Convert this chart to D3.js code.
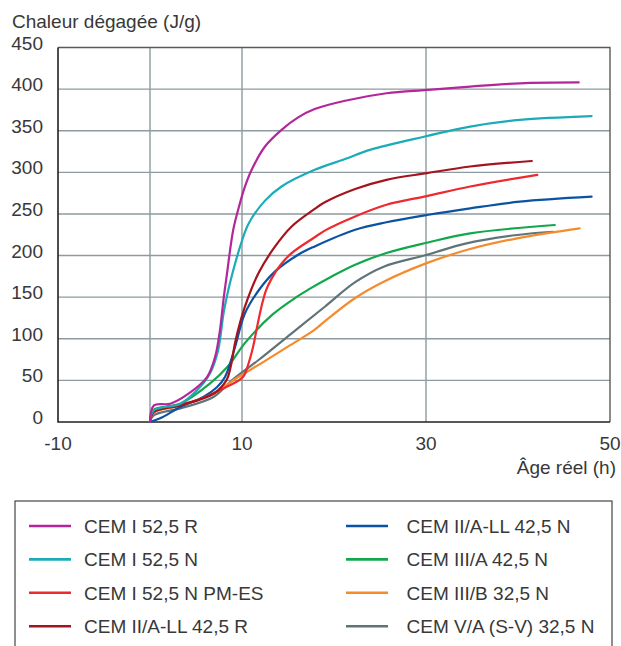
<!DOCTYPE html>
<html><head><meta charset="utf-8">
<script src="https://cdn.jsdelivr.net/npm/d3@7"></script>
<style>
body{margin:0;background:#fff;}
svg{display:block;font-family:"Liberation Sans",Arial,sans-serif;}
</style></head>
<body><svg id="c" width="621" height="646"></svg>
<script>
const seriesNames = ["CEM I 52,5 R","CEM I 52,5 N","CEM I 52,5 N PM-ES","CEM II/A-LL 42,5 R","CEM II/A-LL 42,5 N","CEM III/A 42,5 N","CEM III/B 32,5 N","CEM V/A (S-V) 32,5 N"];
const seriesColors = ["#b3279b","#1babb9","#ee2a30","#a3141e","#0b52a3","#13a74b","#f68b2c","#5f7479"];
const cemI525R_x = [0,0.43,2.2,4.3,6.2,7.07,7.6,8.0,8.33,9.05,9.78,10.2,11.05,12.5,14.3,16.1,17.9,21.2,25.7,30.1,34.8,40.2,46.6];
const cemI525R_y = [0,20,22,35,54,78,110,148,175,231,263,279,303,331,351,366,376,386,395,399,403,407,408];
const cemI525N_x = [0,0.36,3.3,5.1,6.5,7.4,8.0,8.5,8.9,9.8,10.7,12.5,14.3,17.9,21.2,23.9,30.1,34.8,40.2,48];
const cemI525N_y = [0,13.6,22,38,58,86,131,158,176,211,238,266,283,303,316,327,343.6,355,363,367.6];
const cemPMES_x = [0,0.4,5.1,8.3,10.1,10.7,11.2,11.6,12.1,12.6,13.2,14.2,15.4,17.9,19.0,22.3,25.7,30.1,34.8,42.1];
const cemPMES_y = [0,12,26,42,54,70,90,112,138,158,172,189,203,222,230,247,261,271.5,283,297];
const cemIIR_x = [0,0.4,3.3,6.9,8.3,8.8,9.3,10.3,11.8,13.6,15.4,17.9,19.0,22.3,25.7,30.1,34.8,41.5];
const cemIIR_y = [0,12,20,34,50,68,98,138,179,211,235,256,264,280,291,299,307,313.6];
const cemIIN_x = [0,1.1,3.3,5.8,7.3,8.15,9.24,10.3,11.8,13.6,16.1,17.9,22.3,25.7,30.1,34.8,40.2,48];
const cemIIN_y = [0,4.4,18,30,42,54,90,130,158,181,201,211,231,240,248.7,256.7,264.7,270.7];
const cemIIIA_x = [0,0.36,3.3,6.5,8.4,10.4,13.3,15.9,17.2,19.6,22.3,25.7,30.1,34.8,44.0];
const cemIIIA_y = [0,14.4,22,46,66,96,129,150,159,174,189,203,215.4,226.7,236.7];
const cemIIIB_x = [0,0.4,3.3,6.9,9.3,12.3,15.2,17.8,19.0,22.3,25.4,30.0,34.4,39.9,46.7];
const cemIIIB_y = [0,11,20,34,52,72,92,110,121,149,168.6,190.6,206.6,220.7,232.7];
const cemVA_x = [0,0.4,3.3,6.9,8.9,11.8,15.4,19.0,22.3,25.4,30.0,34.4,39.9,43.8];
const cemVA_y = [0,8,16.4,30,50,74.5,106.6,138.5,168,186.6,200.6,214.7,224.7,228.6];
const seriesX = [cemI525R_x,cemI525N_x,cemPMES_x,cemIIR_x,cemIIN_x,cemIIIA_x,cemIIIB_x,cemVA_x];
const seriesY = [cemI525R_y,cemI525N_y,cemPMES_y,cemIIR_y,cemIIN_y,cemIIIA_y,cemIIIB_y,cemVA_y];
const xTickLabels = [-10,10,30,50];
const xGridValues = [0,10,30];
const yTickLabels = [0,50,100,150,200,250,300,350,400,450];
const yTitle = "Chaleur dégagée (J/g)";
const xTitle = "Âge réel (h)";

const svg = d3.select("#c");
const x = d3.scaleLinear().domain([-10,50]).range([58,610]);
const y = d3.scaleLinear().domain([0,450]).range([422,47.5]);
const txt = "#383838";

// grid
svg.append("g").selectAll("line").data(yTickLabels.filter(v=>v>0&&v<450)).join("line")
  .attr("x1",x(-10)).attr("x2",x(50)).attr("y1",d=>y(d)).attr("y2",d=>y(d))
  .attr("stroke","#8c9b9f").attr("stroke-width",1.4);
svg.append("g").selectAll("line").data(xGridValues).join("line")
  .attr("y1",y(0)).attr("y2",y(450)).attr("x1",d=>x(d)).attr("x2",d=>x(d))
  .attr("stroke","#8c9b9f").attr("stroke-width",1.4);
// frame
svg.append("path").attr("d",`M${x(-10)},${y(450)}H${x(50)}V${y(0)}`).attr("fill","none").attr("stroke","#5a5a5a").attr("stroke-width",1.4);
svg.append("path").attr("d",`M${x(-10)},${y(450)}V${y(0)}H${x(50)}`).attr("fill","none").attr("stroke","#222").attr("stroke-width",1.6);

// y labels
svg.append("g").selectAll("text").data(yTickLabels).join("text")
  .attr("x",43).attr("y",d=>y(d)+2).attr("text-anchor","end")
  .attr("font-size",19).attr("fill",txt).text(d=>d);
// x labels
svg.append("g").selectAll("text").data(xTickLabels).join("text")
  .attr("x",d=>x(d)).attr("y",450).attr("text-anchor","middle")
  .attr("font-size",19).attr("fill",txt).text(d=>d);
svg.append("text").attr("x",12).attr("y",28).attr("font-size",19).attr("fill",txt).text(yTitle);
svg.append("text").attr("x",616).attr("y",474).attr("text-anchor","end").attr("font-size",19).attr("fill",txt).text(xTitle);

// lines
const line = d3.line().x(d=>x(d[0])).y(d=>y(d[1])).curve(d3.curveCatmullRom.alpha(0.5));
const order = [7,6,5,4,2,3,1,0];
order.forEach(i=>{
  const pts = seriesX[i].map((v,j)=>[v,seriesY[i][j]]);
  svg.append("path").attr("d",line(pts)).attr("fill","none")
    .attr("stroke",seriesColors[i]).attr("stroke-width",2.2).attr("stroke-linejoin","round").attr("stroke-linecap","round");
});

// legend
svg.append("rect").attr("x",15).attr("y",501).attr("width",597).attr("height",170)
  .attr("fill","none").attr("stroke","#444").attr("stroke-width",1.2);
const lg = svg.append("g");
seriesNames.forEach((n,i)=>{
  const col = Math.floor(i/4), row = i%4;
  const lx = col===0?29:346, ty = 526 + row*33.4;
  lg.append("line").attr("x1",lx).attr("x2",lx+42).attr("y1",ty).attr("y2",ty)
    .attr("stroke",seriesColors[i]).attr("stroke-width",2.6);
  lg.append("text").attr("x",col===0?84:406.5).attr("y",ty+7).attr("font-size",19).attr("fill",txt).text(n);
});
</script></body></html>
